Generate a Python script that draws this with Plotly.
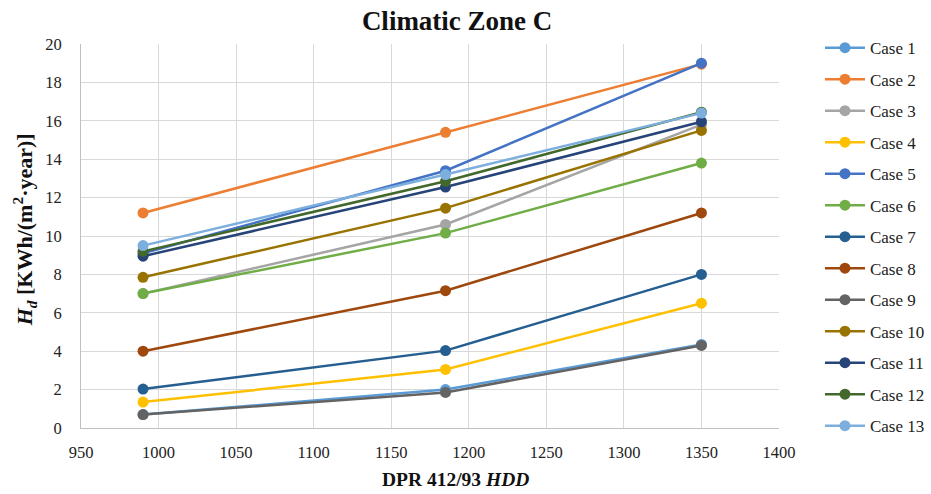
import plotly.graph_objects as go

hdd = [990, 1185, 1350]
case_names = [f"Case {i}" for i in range(1, 14)]
case1 = [0.70, 2.00, 4.35]
case2 = [11.20, 15.40, 18.95]
case3 = [7.00, 10.60, 15.80]
case4 = [1.35, 3.05, 6.50]
case5 = [9.10, 13.40, 19.00]
case6 = [7.00, 10.15, 13.80]
case7 = [2.03, 4.03, 8.00]
case8 = [4.00, 7.15, 11.20]
case9 = [0.70, 1.85, 4.30]
case10 = [7.85, 11.45, 15.50]
case11 = [8.95, 12.55, 15.95]
case12 = [9.20, 12.85, 16.45]
case13 = [9.50, 13.20, 16.40]
series = [case1, case2, case3, case4, case5, case6, case7, case8, case9,
          case10, case11, case12, case13]
colors = ["#5B9BD5", "#ED7D31", "#A5A5A5", "#FFC000", "#4472C4", "#70AD47",
          "#255E91", "#9E480E", "#636363", "#997300", "#264478", "#43682B",
          "#7CAFDD"]
x_title = "<b>DPR 412/93 <i>HDD</i></b>"
y_title = "<b><i>H<sub>d</sub></i> [KWh/(m<sup>2</sup>·year)]</b>"

ff = "Liberation Serif"

fig = go.Figure()
for name, vals, col in zip(case_names, series, colors):
    fig.add_trace(go.Scatter(
        x=hdd, y=vals, name=name, mode="lines+markers",
        line=dict(color=col, width=2.5),
        marker=dict(color=col, size=11),
        legendgroup=name,
    ))

fig.update_layout(
    width=931, height=494,
    paper_bgcolor="white", plot_bgcolor="white",
    margin=dict(l=81, r=152, t=44, b=66, autoexpand=False),
    font=dict(family=ff, size=17, color="#222222"),
    title=dict(text="<b>Climatic Zone C</b>", x=0.491, xanchor="center",
               y=0.958, yanchor="middle",
               font=dict(family=ff, size=27, color="#111111")),
    showlegend=True,
    legend=dict(x=1.0587, xanchor="left", y=1.036, yanchor="top",
                font=dict(family=ff, size=17, color="#222222"),
                tracegroupgap=6.4, itemwidth=40, maxheight=480,
                bgcolor="rgba(0,0,0,0)"),
    xaxis=dict(range=[950, 1400], dtick=50, tick0=950,
               showgrid=True, gridcolor="#D9D9D9", gridwidth=1,
               showline=True, linecolor="#BFBFBF", linewidth=1,
               ticks="", zeroline=False, ticklabelstandoff=9,
               tickfont=dict(family=ff, size=16.5, color="#222222")),
    yaxis=dict(range=[0, 20], dtick=2,
               showgrid=True, gridcolor="#D9D9D9", gridwidth=1,
               showline=True, linecolor="#BFBFBF", linewidth=1,
               ticks="", zeroline=False, ticklabelstandoff=15,
               tickfont=dict(family=ff, size=16.5, color="#222222")),
    annotations=[
        dict(text=x_title, xref="paper", yref="paper", x=0.536, y=-0.133,
             xanchor="center", yanchor="middle", showarrow=False,
             font=dict(family=ff, size=19.5, color="#111111")),
        dict(text=y_title, xref="paper", yref="paper", x=-0.0815, y=0.515,
             xanchor="center", yanchor="middle", showarrow=False, textangle=-90,
             font=dict(family=ff, size=22, color="#111111")),
    ],
)

fig.write_html("out.html")
